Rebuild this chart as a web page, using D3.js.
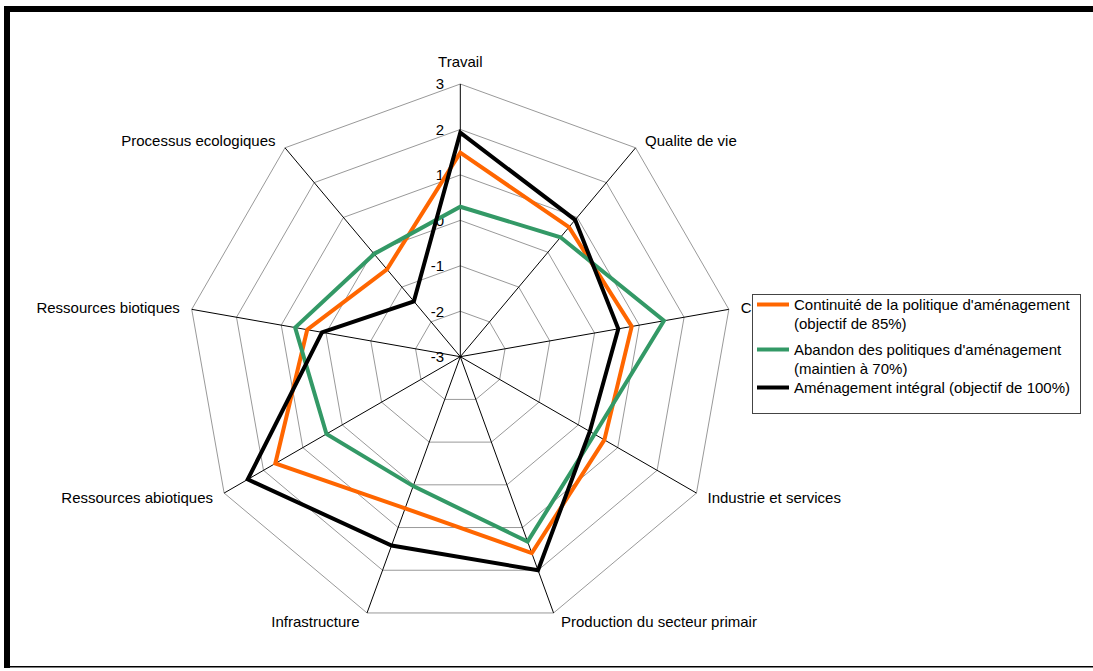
<!DOCTYPE html>
<html>
<head>
<meta charset="utf-8">
<script src="https://cdn.jsdelivr.net/npm/d3@7"></script>
<style>
  html, body { margin: 0; padding: 0; background: #fff; }
  svg { display: block; }
  text { font-family: "Liberation Sans", Arial, sans-serif; fill: #000; }
</style>
</head>
<body>
<svg id="chart" width="1093" height="671"></svg>
<script>
// Radar chart axes (clockwise from the top)
const categories = [
  "Travail",
  "Qualite de vie",
  "Culture",
  "Industrie et services",
  "Production du secteur primair",
  "Infrastructure",
  "Ressources abiotiques",
  "Ressources biotiques",
  "Processus ecologiques"
];

// Scenario scores on each axis
const continuite = [1.49, 0.72, 0.83, 0.66, 1.60, 0.55, 1.70, 0.42, -0.49];
const abandon    = [0.30, 0.43, 1.55, 0.41, 1.33, 0.03, 0.40, 0.69, -0.05];
const integral   = [1.93, 0.93, 0.53, 0.29, 2.00, 1.42, 2.40, 0.09, -1.41];

const tickValues = [-3, -2, -1, 0, 1, 2, 3];

const seriesNames = [
  ["Continuité de la politique d'aménagement", "(objectif de 85%)"],
  ["Abandon des politiques d'aménagement", "(maintien à 70%)"],
  ["Aménagement intégral (objectif de 100%)"]
];
const seriesColors = ["#FF6600", "#339966", "#000000"];
const seriesData = [continuite, abandon, integral];

const FS = 15;
const svg = d3.select("#chart");
const cx = 460.3, cy = 356.7, R = 272.7;

const r = d3.scaleLinear().domain([-3, 3]).range([0, R]);
const angle = d3.scalePoint().domain(d3.range(categories.length))
  .range([0, 2 * Math.PI * (categories.length - 1) / categories.length]);

const pt = (i, v) => {
  const a = angle(i);
  return [cx + r(v) * Math.sin(a), cy - r(v) * Math.cos(a)];
};

// Outer frame
svg.append("rect").attr("x", 4).attr("y", 6).attr("width", 1089).attr("height", 6).attr("fill", "#000");
svg.append("rect").attr("x", 4).attr("y", 6).attr("width", 6).attr("height", 662).attr("fill", "#000");
svg.append("rect").attr("x", 4).attr("y", 666).attr("width", 1089).attr("height", 1.5).attr("fill", "#000");

const g = svg.append("g");

// Grid rings
const ringLine = d3.line().curve(d3.curveLinearClosed);
tickValues.filter(t => t > -3).forEach(t => {
  g.append("path")
    .attr("d", ringLine(categories.map((c, i) => pt(i, t))))
    .attr("fill", "none").attr("stroke", "#999").attr("stroke-width", 1);
});

// Spokes
categories.forEach((c, i) => {
  const [x, y] = pt(i, 3);
  g.append("line").attr("x1", cx).attr("y1", cy).attr("x2", x).attr("y2", y)
    .attr("stroke", "#000").attr("stroke-width", 1);
});

// Value labels along the top spoke
tickValues.forEach(t => {
  const [, y] = pt(0, t);
  g.append("text").attr("x", 444).attr("y", y).attr("dy", "0.35em")
    .attr("text-anchor", "end").attr("font-size", FS).text(t);
});

// Axis labels
categories.forEach((c, i) => {
  const a = angle(i);
  const s = Math.sin(a), co = Math.cos(a);
  const [x, y] = pt(i, 3);
  let anchor = "middle", lx = x, ly = y;
  if (Math.abs(s) < 0.01) {
    ly = y - 22;
  } else {
    anchor = s > 0 ? "start" : "end";
    lx = x + Math.sign(s) * (5 + 7 * Math.abs(s));
    ly = y - co * 9;
  }
  g.append("text").attr("x", lx).attr("y", ly).attr("dy", "0.35em")
    .attr("text-anchor", anchor).attr("font-size", FS).text(c);
});

// Series
const seriesLine = d3.line().curve(d3.curveLinearClosed);
seriesData.forEach((vals, k) => {
  g.append("path")
    .attr("d", seriesLine(vals.map((v, i) => pt(i, v))))
    .attr("fill", "none").attr("stroke", seriesColors[k])
    .attr("stroke-width", 4).attr("stroke-linejoin", "miter");
});

// Legend
const lg = svg.append("g");
lg.append("rect").attr("x", 752.5).attr("y", 294.5).attr("width", 328).attr("height", 119)
  .attr("fill", "#fff").attr("stroke", "#444").attr("stroke-width", 1);
const rowY = [[304.5, 323.5], [349.5, 368.5], [387.5]];
seriesNames.forEach((lines, k) => {
  lg.append("line").attr("x1", 757).attr("x2", 789)
    .attr("y1", rowY[k][0]).attr("y2", rowY[k][0])
    .attr("stroke", seriesColors[k]).attr("stroke-width", 4);
  lines.forEach((txt, j) => {
    lg.append("text").attr("x", 794).attr("y", rowY[k][j]).attr("dy", "0.35em")
      .attr("font-size", FS).text(txt);
  });
});
</script>
</body>
</html>
